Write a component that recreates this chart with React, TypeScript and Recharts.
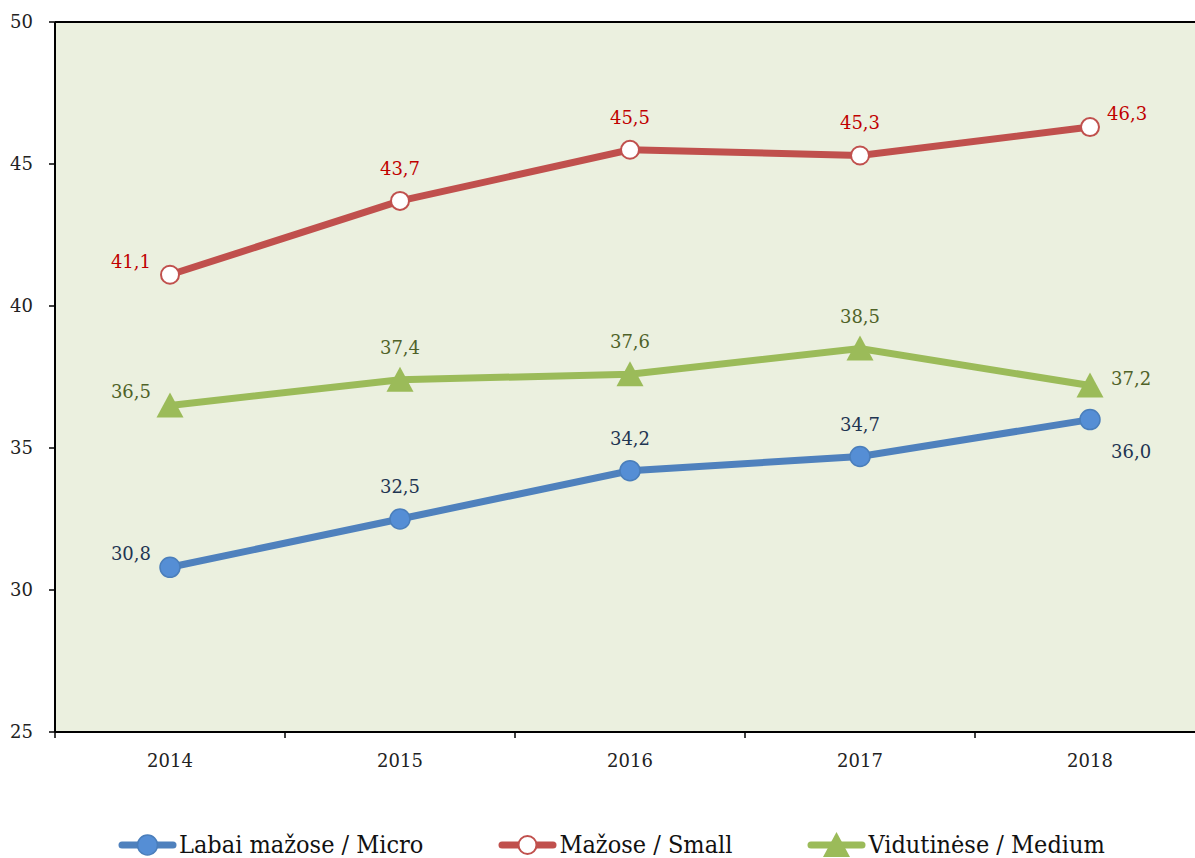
import React from 'react';
import { LineChart, Line, XAxis, YAxis, CartesianGrid, Legend, ReferenceLine, LabelList } from 'recharts';

const years = ['2014', '2015', '2016', '2017', '2018'];
const micro = [30.8, 32.5, 34.2, 34.7, 36.0];
const small = [41.1, 43.7, 45.5, 45.3, 46.3];
const medium = [36.5, 37.4, 37.6, 38.5, 37.2];
const yTicks = [25, 30, 35, 40, 45, 50];
const seriesNames = ['Labai mažose / Micro', 'Mažose / Small', 'Vidutinėse / Medium'];

const data = years.map((y, i) => ({ year: y, micro: micro[i], small: small[i], medium: medium[i] }));

const CHART_W = 1210;
const CHART_H = 858;
const MARGIN = { top: 22, right: 5, left: 0, bottom: 0 };
const Y_AXIS_W = 55;
const HALF_BAND = (CHART_W - MARGIN.left - MARGIN.right - Y_AXIS_W) / years.length / 2;

const FONT = '"DejaVu Serif", serif';
const LEGEND_FONT = '"DejaVu Serif Condensed", "DejaVu Serif", serif';

const COLORS = {
  micro: { line: '#4F81BD', fill: '#558ED5', stroke: '#4A7EBB', label: '#1F3552' },
  small: { line: '#C0504D', fill: '#FFFFFF', stroke: '#C0504D', label: '#C00000' },
  medium: { line: '#9BBB59', fill: '#9BBB59', stroke: '#9BBB59', label: '#4F6228' },
};

const fmt = (v: number) => v.toFixed(1).replace('.', ',');

const CircleDot = (fill: string, stroke: string, r: number, sw: number) => (props: any) => {
  const { cx, cy, index } = props;
  if (cx == null || cy == null) return <g key={index} />;
  return <circle key={index} cx={cx} cy={cy} r={r} fill={fill} stroke={stroke} strokeWidth={sw} />;
};

const TriangleDot = (fill: string) => (props: any) => {
  const { cx, cy, index } = props;
  if (cx == null || cy == null) return <g key={index} />;
  return (
    <polygon
      key={index}
      points={`${cx},${cy - 13} ${cx - 13.5},${cy + 12} ${cx + 13.5},${cy + 12}`}
      fill={fill}
    />
  );
};

const makeLabel = (color: string, lastDx: number, lastDy: number) => (props: any) => {
  const { x, y, value, index } = props;
  const n = years.length;
  let tx = x;
  let ty = y - 26;
  let anchor: 'start' | 'middle' | 'end' = 'middle';
  if (index === 0) {
    tx = x - 19;
    ty = y - 7;
    anchor = 'end';
  } else if (index === n - 1) {
    tx = x + lastDx;
    ty = y + lastDy;
    anchor = 'start';
  }
  return (
    <text x={tx} y={ty} textAnchor={anchor} fill={color} fontFamily={FONT} fontSize={18}>
      {fmt(Number(value))}
    </text>
  );
};

const XTick = (props: any) => {
  const { x, y, payload } = props;
  const bx = x - HALF_BAND;
  return (
    <g>
      <line x1={bx} y1={y} x2={bx} y2={y + 6} stroke="#000" strokeWidth={1.5} />
      <text x={x} y={y + 35} textAnchor="middle" fill="#222" fontFamily={FONT} fontSize={18}>
        {payload.value}
      </text>
    </g>
  );
};

const legendItems = [
  { name: seriesNames[0], key: 'micro' },
  { name: seriesNames[1], key: 'small' },
  { name: seriesNames[2], key: 'medium' },
];

const LegendIcon = ({ k }: { k: string }) => {
  const c = (COLORS as any)[k];
  return (
    <svg width={59} height={26} style={{ display: 'block' }}>
      <line x1={4} y1={13} x2={55} y2={13} stroke={c.line} strokeWidth={7} strokeLinecap="round" />
      {k === 'micro' && <circle cx={29.5} cy={13} r={10} fill={c.fill} stroke={c.stroke} strokeWidth={1.5} />}
      {k === 'small' && <circle cx={29.5} cy={13} r={9} fill={c.fill} stroke={c.stroke} strokeWidth={2} />}
      {k === 'medium' && <polygon points={`29.5,0 16,25 43,25`} fill={c.fill} />}
    </svg>
  );
};

const LegendContent = () => (
  <div style={{ display: 'flex', alignItems: 'center', paddingLeft: 118, gap: 75 }}>
    {legendItems.map((it) => (
      <div key={it.key} style={{ display: 'flex', alignItems: 'center', gap: 2 }}>
        <LegendIcon k={it.key} />
        <span style={{ fontFamily: LEGEND_FONT, fontSize: 25, color: '#111', whiteSpace: 'nowrap' }}>{it.name}</span>
      </div>
    ))}
  </div>
);

export default function App() {
  return (
    <div style={{ position: 'absolute', left: 0, top: 0, width: 1195, height: 858, overflow: 'hidden', background: '#fff' }}>
      <LineChart width={CHART_W} height={CHART_H} data={data} margin={MARGIN}>
        <CartesianGrid horizontal={false} vertical={false} fill="#EBF0DF" fillOpacity={1} stroke="none" />
        <XAxis
          dataKey="year"
          scale="band"
          height={96}
          axisLine={{ stroke: '#000', strokeWidth: 2 }}
          tickLine={false}
          tickSize={0}
          tickMargin={0}
          tick={<XTick />}
          interval={0}
        />
        <YAxis
          width={Y_AXIS_W}
          domain={[25, 50]}
          ticks={yTicks}
          axisLine={{ stroke: '#000', strokeWidth: 2 }}
          tickLine={{ stroke: '#000', strokeWidth: 1.5 }}
          tickSize={6}
          tickMargin={16}
          tick={{ fill: '#222', fontFamily: FONT, fontSize: 18 }}
          allowDataOverflow
        />
        <ReferenceLine y={50} stroke="#000" strokeWidth={2} />
        <Legend
          verticalAlign="bottom"
          content={<LegendContent />}
          wrapperStyle={{ left: 0, width: 1195, bottom: 0, top: 830, height: 30 }}
        />
        <Line
          name={seriesNames[0]}
          dataKey="micro"
          stroke={COLORS.micro.line}
          strokeWidth={7}
          strokeLinecap="round"
          dot={CircleDot(COLORS.micro.fill, COLORS.micro.stroke, 10, 1.5)}
          isAnimationActive={false}
        >
          <LabelList dataKey="micro" content={makeLabel(COLORS.micro.label, 21, 38)} />
        </Line>
        <Line
          name={seriesNames[1]}
          dataKey="small"
          stroke={COLORS.small.line}
          strokeWidth={7}
          strokeLinecap="round"
          dot={CircleDot(COLORS.small.fill, COLORS.small.stroke, 9, 2)}
          isAnimationActive={false}
        >
          <LabelList dataKey="small" content={makeLabel(COLORS.small.label, 17, -7)} />
        </Line>
        <Line
          name={seriesNames[2]}
          dataKey="medium"
          stroke={COLORS.medium.line}
          strokeWidth={7}
          strokeLinecap="round"
          dot={TriangleDot(COLORS.medium.fill)}
          isAnimationActive={false}
        >
          <LabelList dataKey="medium" content={makeLabel(COLORS.medium.label, 21, -1)} />
        </Line>
      </LineChart>
    </div>
  );
}
